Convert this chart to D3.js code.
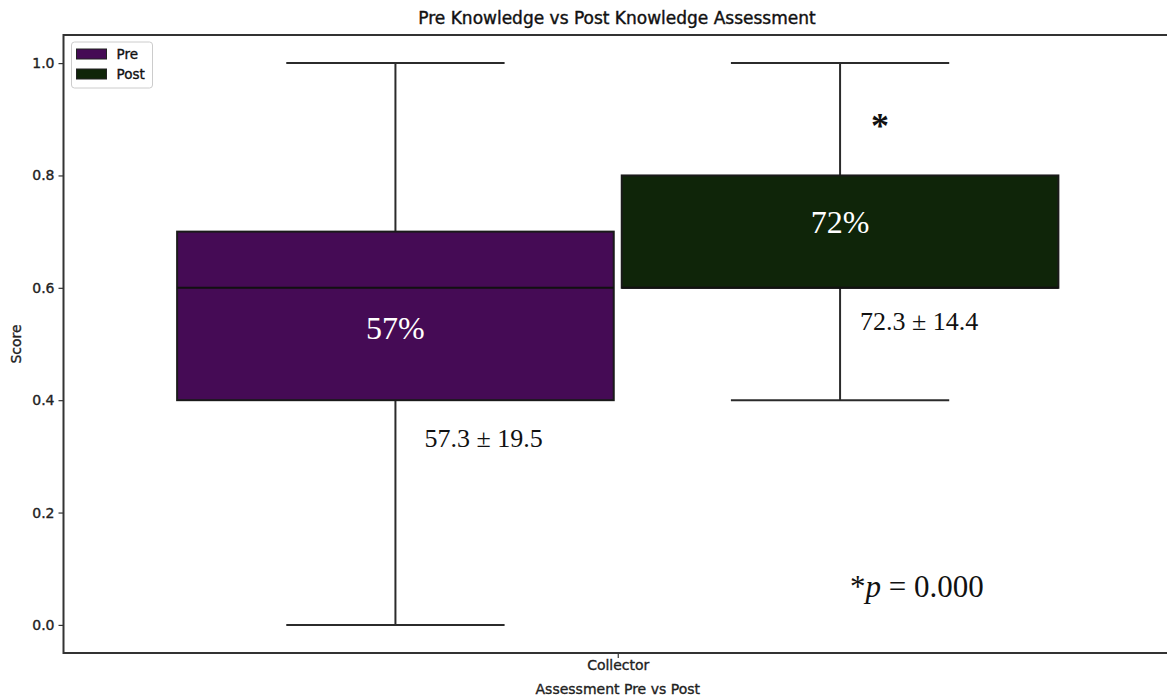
<!DOCTYPE html>
<html><head><meta charset="utf-8">
<script src="https://cdn.jsdelivr.net/npm/d3@7"></script>
<style>body{margin:0;background:#fff}svg{display:block}</style>
</head><body>
<svg id="c" width="1167" height="698"></svg>
<script>
const groups = ["Pre", "Post"];
const category = ["Collector"];
const whiskerLow = [0.0, 0.4];
const q1 = [0.4, 0.6];
const median = [0.6, 0.6];
const q3 = [0.7, 0.8];
const whiskerHigh = [1.0, 1.0];
const pctLabels = ["57%", "72%"];
const meanSdLabels = ["57.3 \u00b1 19.5", "72.3 \u00b1 14.4"];
const pctY = [0.528, 0.717];
const meanSdY = [0.317, 0.525];
const yTicks = [0.0, 0.2, 0.4, 0.6, 0.8, 1.0];
const colors = ["#450b55", "#0f2509"];

const W = 1167, H = 698;
const m = {left: 63.5, right: 1172, top: 35, bottom: 653};
const svg = d3.select("#c");
const x = d3.scaleLinear().domain([-0.5, 0.5]).range([m.left, m.right]);
const y = d3.scaleLinear().domain([-0.05, 1.05]).range([m.bottom, m.top]);
const hue = d3.scaleBand().domain(groups).range([x(-0.3975), x(0.3975)]).paddingInner(0.018);
const line = "#2b2b2b";
const sans = "'DejaVu Sans', sans-serif";
const serif = "'Liberation Serif', serif";

// boxes
groups.forEach((g, i) => {
  const x0 = hue(g), bw = hue.bandwidth(), cx = x0 + bw / 2, cw = bw / 2;
  const gg = svg.append("g");
  gg.append("line").attr("x1", cx).attr("x2", cx).attr("y1", y(whiskerLow[i])).attr("y2", y(q1[i])).attr("stroke", line).attr("stroke-width", 2);
  gg.append("line").attr("x1", cx).attr("x2", cx).attr("y1", y(q3[i])).attr("y2", y(whiskerHigh[i])).attr("stroke", line).attr("stroke-width", 2);
  [whiskerLow[i], whiskerHigh[i]].forEach(v => gg.append("line").attr("x1", cx - cw / 2).attr("x2", cx + cw / 2).attr("y1", y(v)).attr("y2", y(v)).attr("stroke", line).attr("stroke-width", 2));
  gg.append("rect").attr("x", x0).attr("width", bw).attr("y", y(q3[i])).attr("height", y(q1[i]) - y(q3[i]))
    .attr("fill", colors[i]).attr("stroke", "#1a1a1a").attr("stroke-width", 2);
  gg.append("line").attr("x1", x0).attr("x2", x0 + bw).attr("y1", y(median[i])).attr("y2", y(median[i])).attr("stroke", "#111").attr("stroke-width", 2);
  gg.append("text").attr("x", cx).attr("y", y(pctY[i])).attr("text-anchor", "middle").attr("dominant-baseline", "central")
    .attr("fill", "#fff").style("font-family", serif).style("font-size", "32px").text(pctLabels[i]);
  gg.append("text").attr("x", cx + (i === 0 ? 29 : 20)).attr("y", y(meanSdY[i]))
    .attr("fill", "#111").style("font-family", serif).style("font-size", "26px").text(meanSdLabels[i]);
});

// significance star
const postCx = hue("Post") + hue.bandwidth() / 2;
svg.append("text").attr("x", postCx + 40).attr("y", y(0.867)).attr("text-anchor", "middle")
  .style("font-family", serif).style("font-size", "36px").style("font-weight", "bold").attr("fill", "#111").text("*");
const pt = svg.append("text").attr("x", postCx + 10).attr("y", y(0.05)).attr("fill", "#111")
  .style("font-family", serif).style("font-size", "31px");
pt.append("tspan").text("*");
pt.append("tspan").style("font-style", "italic").text("p");
pt.append("tspan").text(" = 0.000");

// axes
const ax = svg.append("g").attr("transform", `translate(${m.left},0)`)
  .call(d3.axisLeft(y).tickValues(yTicks).tickFormat(d3.format(".1f")).tickSize(5).tickPadding(4));
ax.select(".domain").remove();
ax.selectAll("line").attr("stroke", "#333").attr("stroke-width", 1.2);
ax.selectAll("text").style("font-family", sans).style("font-size", "14px").attr("fill", "#222")
  .attr("stroke", "#222").attr("stroke-width", 0.35);

const bx = svg.append("g").attr("transform", `translate(0,${m.bottom})`)
  .call(d3.axisBottom(d3.scalePoint().domain(category).range([x(0), x(0)])).tickSize(5).tickPadding(2));
bx.select(".domain").remove();
bx.selectAll("line").attr("stroke", "#333").attr("stroke-width", 1.2);
bx.selectAll("text").style("font-family", sans).style("font-size", "14px").attr("fill", "#222")
  .attr("stroke", "#222").attr("stroke-width", 0.35);

// frame
svg.append("rect").attr("x", m.left).attr("y", m.top).attr("width", m.right - m.left).attr("height", m.bottom - m.top)
  .attr("fill", "none").attr("stroke", "#333").attr("stroke-width", 2);

svg.append("text").attr("x", x(0)).attr("y", 694).attr("text-anchor", "middle")
  .style("font-family", sans).style("font-size", "14px").attr("fill", "#222").attr("stroke", "#222").attr("stroke-width", 0.35)
  .text("Assessment Pre vs Post");
svg.append("text").attr("transform", `translate(21,${(m.top + m.bottom) / 2}) rotate(-90)`).attr("text-anchor", "middle")
  .style("font-family", sans).style("font-size", "14px").attr("fill", "#222").attr("stroke", "#222").attr("stroke-width", 0.35)
  .text("Score");
svg.append("text").attr("x", 617).attr("y", 24).attr("text-anchor", "middle")
  .style("font-family", sans).style("font-size", "17px").attr("fill", "#111").attr("stroke", "#111").attr("stroke-width", 0.4)
  .text("Pre Knowledge vs Post Knowledge Assessment");

// legend
const lg = svg.append("g").attr("transform", `translate(${m.left + 8},${m.top + 7})`);
lg.append("rect").attr("width", 81).attr("height", 46).attr("rx", 3).attr("fill", "#fff").attr("stroke", "#ccc");
groups.forEach((g, i) => {
  lg.append("rect").attr("x", 5).attr("y", 7 + i * 20).attr("width", 30).attr("height", 10).attr("fill", colors[i]).attr("stroke", "#222").attr("stroke-width", 1);
  lg.append("text").attr("x", 45).attr("y", 12 + i * 20).attr("dominant-baseline", "central")
    .style("font-family", sans).style("font-size", "13.5px").attr("fill", "#111").attr("stroke", "#111").attr("stroke-width", 0.35)
    .text(g);
});
</script>
</body></html>
